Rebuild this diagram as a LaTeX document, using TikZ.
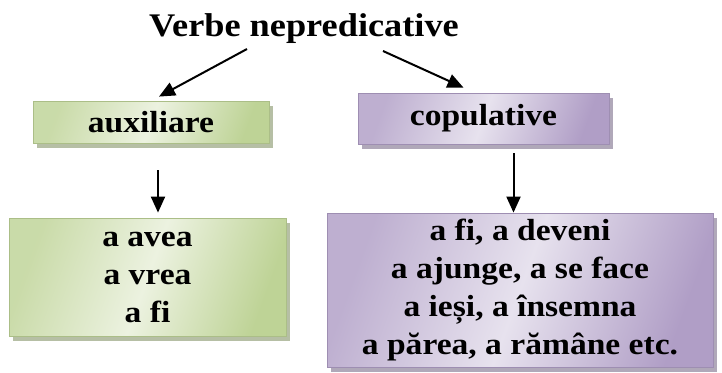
\documentclass[tikz,border=0pt]{standalone}
\usepackage{fontspec}
\setmainfont[FakeStretch=1.1]{Liberation Serif}
\usetikzlibrary{arrows.meta,calc,shadows}

\definecolor{greenDark}{RGB}{190,211,150}
\definecolor{greenLight}{RGB}{236,242,224}
\definecolor{purpleDark}{RGB}{176,158,198}
\definecolor{purpleLight}{RGB}{231,226,238}

\tikzset{
    box/.style={draw=#1Dark!90!black, line width=0.8pt, left color=#1Dark!75!#1Light, right color=#1Dark,
            middle color=#1Light, shading angle=70, inner sep=0pt, align=center,
            drop shadow={shadow xshift=4pt, shadow yshift=-5pt, fill=black!30!#1Dark!60, opacity=1}},
    arr/.style={line width=2pt, -{Triangle[length=16pt,width=14pt]}},
    txt/.style={font=\bfseries\fontsize{30.5}{38}\selectfont}
}

\begin{document}
\begin{tikzpicture}[x=1pt,y=-1pt]
        \useasboundingbox (0,0) rectangle (722,372);

        \node[font=\bfseries\fontsize{33}{36}\selectfont, anchor=base, inner sep=0pt] (title) at (304,36) {Verbe nepredicative};

        \node[box=green, txt, minimum width=236pt, minimum height=42pt] (aux) at (151,122) {auxiliare};
        \node[box=purple, txt, minimum width=251pt, minimum height=51pt] (cop) at (483.5,118.5) {copulative};

        \node[box=green, txt, minimum width=277pt, minimum height=118pt] (auxList) at (147.5,277) {a avea\\a vrea\\a fi};
        \node[box=purple, txt, minimum width=386pt, minimum height=154pt] (copList) at (520,290)
            {a fi, a deveni\\a ajunge, a se face\\a ieși, a însemna\\a părea, a rămâne etc.};

        \draw[arr] ($(title.base)+(-57,13)$) -- ($(aux.north)+(8,-4)$);
        \draw[arr] ($(title.base)+(79,15)$) -- ($(cop.north)+(-20,-5)$);
        \draw[arr] ($(aux.south)+(7,27)$) -- ($(auxList.north)+(10.5,-5)$);
        \draw[arr] ($(cop.south)+(30,9)$) -- ($(copList.north)+(-6.5,0)$);

    \end{tikzpicture}
\end{document}
